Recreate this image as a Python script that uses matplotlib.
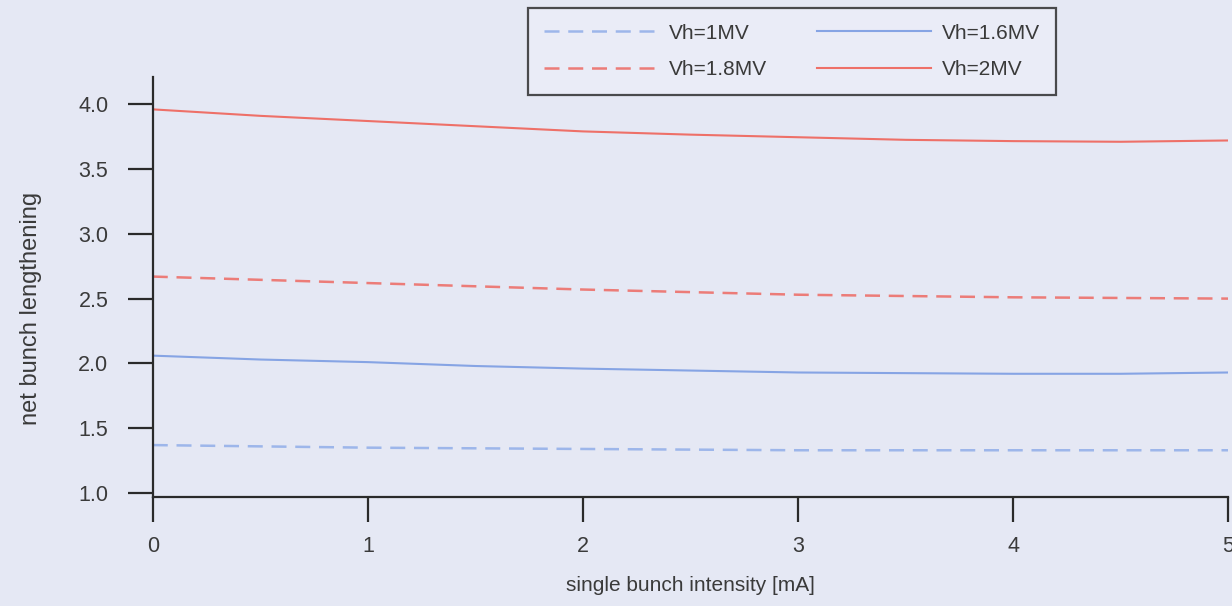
import numpy as np
import matplotlib.pyplot as plt

plt.rcParams['font.family'] = ['Liberation Sans', 'DejaVu Sans']

# single bunch intensity [mA]
current = [0, 0.5, 1, 1.5, 2, 2.5, 3, 3.5, 4, 4.5, 5]

# net bunch lengthening for each harmonic cavity voltage
len_1mv = [1.37, 1.36, 1.35, 1.345, 1.34, 1.335, 1.33, 1.33, 1.33, 1.33, 1.33]
len_16mv = [2.06, 2.03, 2.01, 1.98, 1.96, 1.945, 1.93, 1.925, 1.92, 1.92, 1.93]
len_18mv = [2.67, 2.645, 2.62, 2.595, 2.57, 2.55, 2.53, 2.52, 2.51, 2.505, 2.50]
len_2mv = [3.96, 3.91, 3.87, 3.83, 3.79, 3.765, 3.745, 3.725, 3.715, 3.71, 3.72]

bg = '#e5e8f4'
blue = '#86a4e4'
red = '#ee7068'
txt = '#3a3a3a'

fig = plt.figure(figsize=(12.32, 6.06), dpi=100, facecolor=bg)
ax = fig.add_axes([0.124, 0.180, 0.873, 0.693], facecolor=bg)

ax.plot(current, len_1mv, color='#9db6ea', lw=1.8, ls=(0, (6, 3.5)), label='Vh=1MV')
ax.plot(current, len_18mv, color='#ec7c78', lw=1.8, ls=(0, (6, 3.5)), label='Vh=1.8MV')
ax.plot(current, len_16mv, color=blue, lw=1.5, label='Vh=1.6MV')
ax.plot(current, len_2mv, color=red, lw=1.5, label='Vh=2MV')

ax.set_xlim(0, 5)
ax.set_ylim(0.97, 4.21)
ax.set_xticks([0, 1, 2, 3, 4, 5])
ax.set_yticks([1.0, 1.5, 2.0, 2.5, 3.0, 3.5, 4.0])
ax.set_yticklabels(['1.0', '1.5', '2.0', '2.5', '3.0', '3.5', '4.0'])

for s in ['top', 'right']:
    ax.spines[s].set_visible(False)
for s in ['left', 'bottom']:
    ax.spines[s].set_linewidth(1.6)
    ax.spines[s].set_color('#2a2a2a')

ax.tick_params(axis='both', direction='out', length=18, width=1.6,
               color='#2a2a2a', labelsize=15.5, labelcolor=txt)
ax.tick_params(axis='y', pad=14)
ax.tick_params(axis='x', pad=10)

ax.set_xlabel('single bunch intensity [mA]', fontsize=15, color=txt, labelpad=14)
ax.set_ylabel('net bunch lengthening', fontsize=17, color=txt)
ax.yaxis.set_label_coords(-0.103, 0.448)

leg = fig.legend(handles=ax.get_lines(), ncol=2, loc='upper left',
                 bbox_to_anchor=(528 / 1232, 1 - 8 / 606),
                 handlelength=5.5, columnspacing=2.4, handletextpad=0.5,
                 fontsize=15, frameon=True, fancybox=False,
                 borderpad=0.75, labelspacing=0.85, borderaxespad=0)
leg.get_frame().set_edgecolor('#222222')
leg.get_frame().set_linewidth(1.6)
leg.get_frame().set_facecolor('#eceef8')
for t in leg.get_texts():
    t.set_color(txt)

fig.savefig('out.png', dpi=100, facecolor=bg)
